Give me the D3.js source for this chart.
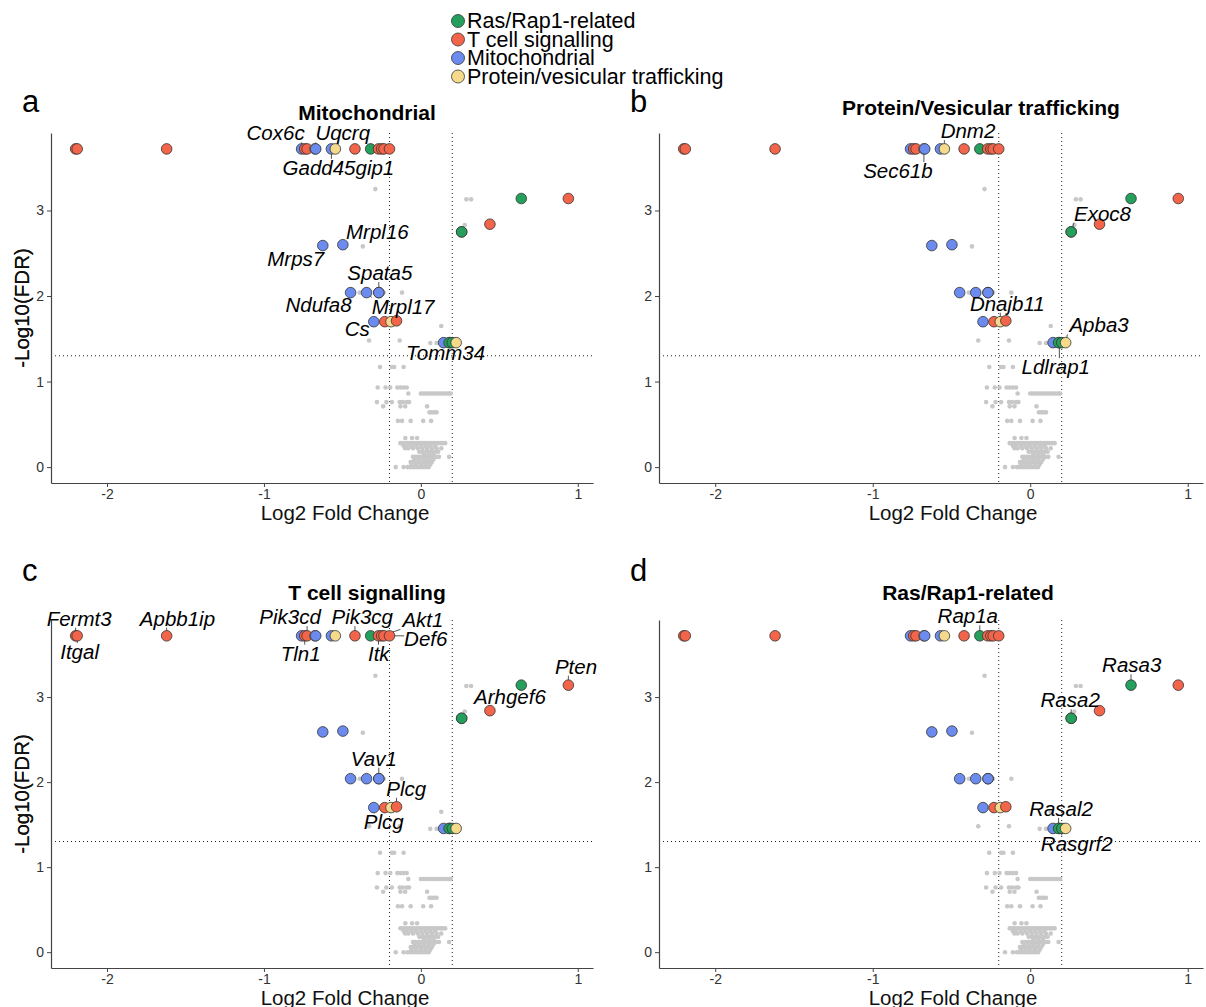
<!DOCTYPE html>
<html>
<head>
<meta charset="utf-8">
<script src="https://cdn.jsdelivr.net/npm/d3@7"></script>
<style>
  body { margin: 0; background: #fff; }
  svg { font-family: "Liberation Sans", Arial, sans-serif; }
</style>
</head>
<body>
<svg id="chart" width="1206" height="1007"></svg>
<script>
// categories + colours
const categories = ["Ras/Rap1-related", "T cell signalling", "Mitochondrial", "Protein/vesicular trafficking"];
const catColors = ["#259f5c", "#f2654a", "#6b8cee", "#f6da8c"];

// significant genes (drawn in this order)
const hitGenes = ["Fermt3", "Itgal", "Apbb1ip", "Cox6c", "Tln1", "Pik3cd", "Sec61b", "Uqcrq", "Gadd45gip1", "Dnm2",
  "Pik3cg", "Rap1a", "Itk", "Akt1", "", "Def6", "Rasa3", "Pten", "Arhgef6", "Exoc8",
  "Rasa2", "Mrps7", "Mrpl16", "Ndufa8", "Mrpl17", "Vav1", "Spata5", "Cs", "Plcg", "Dnajb11",
  "Plcg", "Tomm34", "Ldlrap1", "Rasal2", "Rasgrf2", "Apba3"];
const hitLfc = [-2.20, -2.19, -1.62, -0.76, -0.74, -0.725, -0.675, -0.67, -0.57, -0.545,
  -0.42, -0.32, -0.27, -0.25, -0.235, -0.20, 0.64, 0.94, 0.44, 0.26,
  0.26, -0.625, -0.497, -0.448, -0.346, -0.268, -0.268, -0.30, -0.23, -0.19,
  -0.155, 0.145, 0.185, 0.18, 0.20, 0.225];
const hitLogFdr = [3.72, 3.72, 3.72, 3.72, 3.72, 3.72, 3.72, 3.72, 3.72, 3.72,
  3.72, 3.72, 3.72, 3.72, 3.72, 3.72, 3.14, 3.14, 2.84, 2.75,
  2.75, 2.59, 2.60, 2.04, 2.04, 2.04, 2.04, 1.70, 1.70, 1.70,
  1.71, 1.455, 1.455, 1.455, 1.455, 1.455];
const hitCat = [1, 1, 1, 2, 1, 1, 3, 2, 2, 3,
  1, 0, 1, 1, 1, 1, 0, 1, 1, 3,
  0, 2, 2, 2, 2, 1, 2, 2, 1, 3,
  1, 2, 3, 0, 0, 3];

// non significant genes, by -log10(FDR) level
const bgLevels = [3.25, 3.13, 2.83, 2.58, 2.04, 1.65, 1.48, 1.45, 1.17, 0.93, 0.86, 0.76, 0.71, 0.64, 0.54,
  0.34, 0.28, 0.25, 0.22, 0.18, 0.15, 0.12, 0.09, 0.06, 0.03, 0.0];
const bgLfc = [
  [-0.29],
  [0.29, 0.32],
  [0.28],
  [-0.37],
  [-0.39, -0.236, -0.12],
  [0.13],
  [-0.33, -0.135],
  [0.06, 0.10],
  [-0.26, -0.185, -0.17, -0.11],
  [-0.275, -0.225, -0.195, -0.15, -0.13, -0.11, -0.09],
  [-0.08, 0.00, 0.015, 0.03, 0.045, 0.06, 0.075, 0.09, 0.105, 0.12, 0.135, 0.15, 0.165, 0.18, 0.19],
  [-0.28, -0.22, -0.185, -0.135, -0.115, -0.09, -0.075],
  [-0.24, -0.13, -0.10, 0.04],
  [0.055, 0.07, 0.085, 0.10],
  [-0.146, -0.12, -0.065, 0.015, 0.065],
  [-0.099, -0.056, -0.024],
  [-0.13, -0.115, -0.10, -0.085, -0.07, -0.055, -0.04, -0.025, -0.01, 0.005, 0.02, 0.035, 0.05, 0.065, 0.08, 0.095, 0.11, 0.125, 0.14, 0.155],
  [-0.11, -0.09, -0.06, -0.03, 0.0, 0.03, 0.06, 0.09],
  [-0.10, -0.08, -0.05, -0.02, 0.01, 0.04, 0.07, 0.10, 0.13],
  [-0.01, 0.01, 0.03, 0.05, 0.07, 0.09, 0.11],
  [0.02, 0.05, 0.08],
  [-0.05, -0.035, -0.02, -0.005, 0.01, 0.025, 0.04, 0.055, 0.07, 0.085, 0.10, 0.115, 0.18],
  [-0.04, -0.01, 0.02, 0.05, 0.08],
  [-0.065, -0.05, -0.035, -0.02, -0.005, 0.01, 0.025, 0.04, 0.055, 0.07],
  [-0.06, -0.03, 0.0, 0.03, 0.06],
  [-0.16, -0.11, -0.085, -0.07, -0.055, -0.04, -0.025, -0.01, 0.005, 0.02, 0.035, 0.05]
];

const xTicks = [-2, -1, 0, 1];
const yTicks = [0, 1, 2, 3];
const fcCut = 0.2;
const fdrCut = -Math.log10(0.05);

const panelTitles = ["Mitochondrial", "Protein/Vesicular trafficking", "T cell signalling", "Ras/Rap1-related"];
const panelLetters = ["a", "b", "c", "d"];
// which genes (index into hit arrays) get a label in each panel
const panelLabels = [
  [3, 7, 8, 22, 21, 26, 23, 24, 27, 31],
  [9, 6, 19, 29, 35, 32],
  [0, 1, 2, 5, 4, 10, 13, 15, 12, 18, 17, 25, 30, 28],
  [11, 16, 20, 33, 34]
];

// layout (pixels)
const boxes = [
  { left: 51, right: 593, top: 133, bottom: 483, letterY: 112, titleX: 367, titleY: 112, xTitleX: 345 },
  { left: 659, right: 1203, top: 133, bottom: 483, letterY: 112, titleX: 981, titleY: 107, xTitleX: 953 },
  { left: 51, right: 593, top: 620, bottom: 968, letterY: 581, titleX: 367, titleY: 592, xTitleX: 345 },
  { left: 659, right: 1203, top: 620, bottom: 968, letterY: 581, titleX: 968, titleY: 592, xTitleX: 953 }
];
// label offsets from the point (repel result), same order as panelLabels
const labelNudges = [
  [[-26, -16], [27, -16], [7, 18.5], [34.5, -13], [-27, 12.7], [1, -20], [-32, 11.5], [36.6, 13.4], [-16.5, 6.6], [2, 10]],
  [[23.6, -18.3], [-26, 21.7], [31.3, -18.6], [7, -18.4], [33.4, -17.7], [-3.6, 24]],
  [[3.5, -17.6], [2.4, 15.8], [10.8, -17.6], [-17, -19.2], [-4, 17.4], [7.3, -19.2], [41.3, -15.9], [36.3, 2.4],
   [0.3, 17.4], [20, -14], [7.6, -19], [-5, -20.5], [9.7, -18.5], [-1, 14]],
  [[-12, -20], [0.7, -20.3], [-1, -18.4], [2.5, -20], [15, 15.5]]
];

const svg = d3.select("#chart");
const color = d3.scaleOrdinal().domain(d3.range(categories.length)).range(catColors);

const hits = hitGenes.map((g, i) => ({ gene: g, lfc: hitLfc[i], fdr: hitLogFdr[i], cat: hitCat[i] }));
const bg = bgLevels.flatMap((y, i) => bgLfc[i].map(x => ({ lfc: x, fdr: y })));

// ggplot-like 5% expansion
const allX = hits.map(d => d.lfc).concat(bg.map(d => d.lfc));
const allY = hits.map(d => d.fdr).concat(bg.map(d => d.fdr));
const [xMin, xMax] = d3.extent(allX);
const [yMin, yMax] = d3.extent(allY);
const xPad = (xMax - xMin) * 0.05, yPad = (yMax - yMin) * 0.05;

const textFont = "20.5px";

boxes.forEach((b, p) => {
  const x = d3.scaleLinear().domain([xMin - xPad, xMax + xPad]).range([b.left, b.right]);
  const y = d3.scaleLinear().domain([yMin - yPad, yMax + yPad]).range([b.bottom, b.top]);
  const g = svg.append("g");

  // threshold lines
  [-fcCut, fcCut].forEach(v => {
    g.append("line")
      .attr("x1", x(v)).attr("x2", x(v))
      .attr("y1", b.top).attr("y2", b.bottom)
      .attr("stroke", "#222").attr("stroke-width", 1).attr("stroke-dasharray", "1,3");
  });
  g.append("line")
    .attr("x1", b.left).attr("x2", b.right)
    .attr("y1", y(fdrCut)).attr("y2", y(fdrCut))
    .attr("stroke", "#222").attr("stroke-width", 1).attr("stroke-dasharray", "1,3");

  // axes
  const xAxis = g.append("g")
    .attr("transform", `translate(0,${b.bottom})`)
    .call(d3.axisBottom(x).tickValues(xTicks).tickFormat(d => String(d))
      .tickSize(4).tickSizeOuter(0).tickPadding(2));
  const yAxis = g.append("g")
    .attr("transform", `translate(${b.left},0)`)
    .call(d3.axisLeft(y).tickValues(yTicks).tickFormat(d => String(d))
      .tickSize(4).tickSizeOuter(0).tickPadding(3));
  [xAxis, yAxis].forEach(ax => {
    ax.select(".domain").attr("stroke", "#444").attr("stroke-width", 1.2);
    ax.selectAll(".tick line").attr("stroke", "#444");
    ax.selectAll(".tick text")
      .attr("font-size", "14px").attr("fill", "#333")
      .attr("font-family", "Liberation Sans, Arial, sans-serif");
  });

  // axis titles
  g.append("text")
    .attr("x", b.xTitleX).attr("y", b.bottom + 29)
    .attr("text-anchor", "middle").attr("dominant-baseline", "central")
    .attr("font-size", textFont).attr("fill", "#111")
    .text("Log2 Fold Change");
  g.append("text")
    .attr("transform", `translate(21,${(b.top + b.bottom) / 2}) rotate(-90)`)
    .attr("text-anchor", "middle").attr("dominant-baseline", "central")
    .attr("font-size", textFont).attr("fill", "#111")
    .text("-Log10(FDR)");

  // title + panel letter
  g.append("text")
    .attr("x", b.titleX).attr("y", b.titleY)
    .attr("text-anchor", "middle").attr("dominant-baseline", "central")
    .attr("font-size", "21px").attr("font-weight", "bold")
    .text(panelTitles[p]);
  g.append("text")
    .attr("x", b.left - 29).attr("y", b.letterY)
    .attr("font-size", "31px")
    .text(panelLetters[p]);

  // background genes
  g.append("g").selectAll("circle")
    .data(bg)
    .join("circle")
    .attr("cx", d => x(d.lfc))
    .attr("cy", d => y(d.fdr))
    .attr("r", 2.3)
    .attr("fill", "#c8c8c8");

  const segLayer = g.append("g");
  const ptLayer = g.append("g");
  const lblLayer = g.append("g");

  ptLayer.selectAll("circle")
    .data(hits)
    .join("circle")
    .attr("cx", d => x(d.lfc))
    .attr("cy", d => y(d.fdr))
    .attr("r", 5.3)
    .attr("fill", d => color(d.cat))
    .attr("stroke", "#333")
    .attr("stroke-width", 0.8);

  // gene labels with repel-style segments
  panelLabels[p].forEach((hi, k) => {
    const d = hits[hi];
    const px = x(d.lfc), py = y(d.fdr);
    const [dx, dy] = labelNudges[p][k];
    const t = lblLayer.append("text")
      .attr("x", px + dx).attr("y", py + dy)
      .attr("text-anchor", "middle").attr("dominant-baseline", "central")
      .attr("font-size", textFont).attr("font-style", "italic")
      .text(d.gene);
    const bb = t.node().getBBox();
    const bx0 = bb.x, bx1 = bb.x + bb.width, by0 = bb.y + 3, by1 = bb.y + bb.height - 2;
    const cx = Math.max(bx0, Math.min(bx1, px));
    const cy = Math.max(by0, Math.min(by1, py));
    if (Math.hypot(cx - px, cy - py) > 6) {
      segLayer.append("line")
        .attr("x1", px).attr("y1", py)
        .attr("x2", cx).attr("y2", cy)
        .attr("stroke", "#555").attr("stroke-width", 1);
    }
  });
});

// legend
const legend = svg.append("g");
categories.forEach((c, i) => {
  const ly = 21 + i * 18.5;
  legend.append("circle")
    .attr("cx", 458).attr("cy", ly).attr("r", 6.5)
    .attr("fill", color(i)).attr("stroke", "#333").attr("stroke-width", 0.8);
  legend.append("text")
    .attr("x", 467).attr("y", ly)
    .attr("dominant-baseline", "central")
    .attr("font-size", "21.5px")
    .text(c);
});
</script>
</body>
</html>
